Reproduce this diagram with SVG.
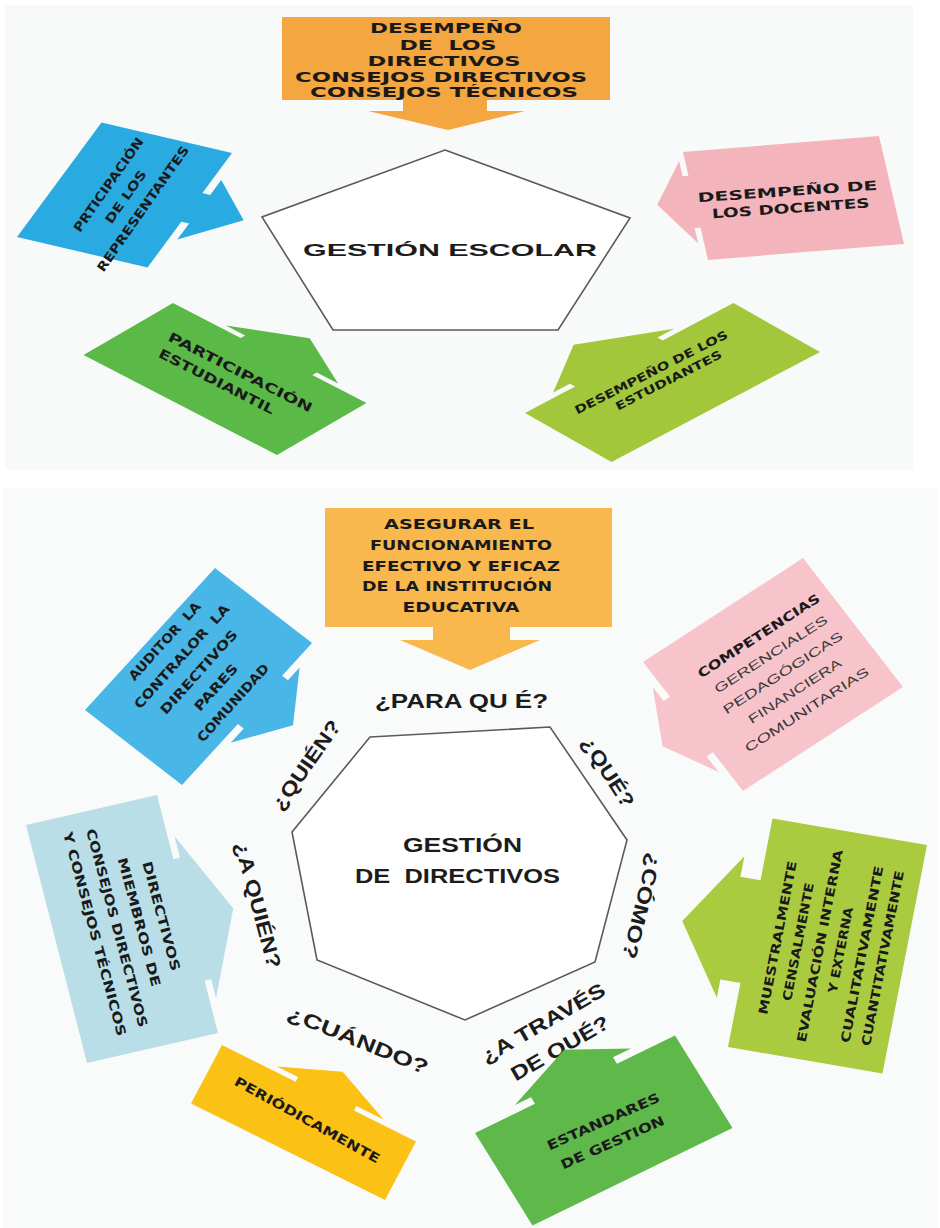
<svg xmlns="http://www.w3.org/2000/svg" width="940" height="1228" viewBox="0 0 940 1228">
  <style>
    .t { font-family: "Liberation Sans", Arial, sans-serif; font-weight: 700; fill: #1c1c1c; }
    .b { font-family: "DejaVu Sans", "Liberation Sans", Arial, sans-serif; font-weight: 700; fill: #1a1a1a; }
    .m { text-anchor: middle; }
    .reg { font-family: "Liberation Sans", Arial, sans-serif; font-weight: 400; fill: #3a3a3a; }
    .frame { fill: #ffffff; stroke: #5a5a5a; stroke-width: 1.6; }
    .q { font-size: 20px; }
  </style>

  <!-- panel backgrounds -->
  <rect width="940" height="1228" fill="#ffffff"/>
  <rect x="5" y="5" width="908" height="465" fill="#f8f9f9"/>
  <rect x="3" y="488" width="934" height="740" fill="#f9fafa"/>

  <!-- ===== Upper panel: GESTIÓN ESCOLAR ===== -->
  <g id="gestion-escolar">
    <polygon class="frame" points="445,150 630,218 558,330 333,330 262,217"/>
    <text class="t m" x="450" y="256" font-size="17" textLength="294" lengthAdjust="spacingAndGlyphs">GESTIÓN ESCOLAR</text>
  </g>

  <g id="desempeno-directivos">
    <path fill="#f4a640" d="M282,17 H610 V100 H487 V111 H525 L448,130 L368,111 H403 V100 H282 Z"/>
    <g class="b m" font-size="13.5">
      <text x="446" y="33" textLength="152" lengthAdjust="spacingAndGlyphs">DESEMPEÑO</text>
      <text x="448" y="50" textLength="97" lengthAdjust="spacingAndGlyphs" xml:space="preserve">DE  LOS</text>
      <text x="444" y="66" textLength="153" lengthAdjust="spacingAndGlyphs">DIRECTIVOS</text>
      <text x="441" y="82" textLength="292" lengthAdjust="spacingAndGlyphs">CONSEJOS DIRECTIVOS</text>
      <text x="444" y="97" textLength="268" lengthAdjust="spacingAndGlyphs">CONSEJOS TÉCNICOS</text>
    </g>
  </g>

  <g id="participacion-representantes">
    <path fill="#29abe2" transform="matrix(0.845,-1.145,1.305,0.305,17,237)"
          d="M0,0 L100,0 L100,100 L65,100 L65,106 L78,106 L52,140 L26,106 L40,106 L40,100 L0,100 Z"/>
    <g class="b m" font-size="12.5" transform="translate(126,197) rotate(-55)">
      <text x="0" y="-17" textLength="112" lengthAdjust="spacingAndGlyphs">PRTICIPACIÓN</text>
      <text x="0" y="4" textLength="62" lengthAdjust="spacingAndGlyphs">DE LOS</text>
      <text x="0" y="25" textLength="150" lengthAdjust="spacingAndGlyphs">REPRESENTANTES</text>
    </g>
  </g>

  <g id="desempeno-docentes">
    <path fill="#f3b4bc" transform="matrix(1.96,-0.16,0.25,1.08,683,152)"
          d="M0,0 L100,0 L100,100 L0,100 L0,70 L-3,70 L-3,84 L-19,46 L-3,8 L-3,22 L0,22 Z"/>
    <g class="b m" font-size="13" transform="translate(788,198) rotate(-4)">
      <text x="0" y="-2" textLength="180" lengthAdjust="spacingAndGlyphs">DESEMPEÑO DE</text>
      <text x="2" y="15" textLength="158" lengthAdjust="spacingAndGlyphs">LOS DOCENTES</text>
    </g>
  </g>

  <g id="participacion-estudiantil">
    <path fill="#5bba47" transform="matrix(1.935,1.0,-0.895,0.52,173,303)"
          d="M0,0 L35,0 L35,-5 L25,-5 L54,-36 L83,-5 L72,-5 L72,0 L100,0 L100,100 L0,100 Z"/>
    <g class="b" font-size="13" transform="translate(167,340) rotate(27)">
      <text x="0" y="0" textLength="160" lengthAdjust="spacingAndGlyphs">PARTICIPACIÓN</text>
      <text x="-1" y="19" textLength="128" lengthAdjust="spacingAndGlyphs">ESTUDIANTIL</text>
    </g>
  </g>

  <g id="desempeno-estudiantes">
    <path fill="#a2c73b" transform="matrix(2.085,-1.1,0.865,0.49,525,413)"
          d="M0,0 L24,0 L24,-6 L16,-6 L42,-45 L74,-6 L66,-6 L66,0 L100,0 L100,100 L0,100 Z"/>
    <g class="b m" font-size="11.5" transform="translate(653,376) rotate(-27)">
      <text x="0" y="0" textLength="170" lengthAdjust="spacingAndGlyphs">DESEMPEÑO DE LOS</text>
      <text x="12" y="15" textLength="118" lengthAdjust="spacingAndGlyphs">ESTUDIANTES</text>
    </g>
  </g>

  <!-- ===== Lower panel: GESTIÓN DE DIRECTIVOS ===== -->
  <g id="gestion-directivos">
    <polygon class="frame" points="370,737 550,727 627,840 595,962 465,1020 317,960 292,832"/>
    <text class="t" x="403" y="852" font-size="21" textLength="119" lengthAdjust="spacingAndGlyphs">GESTIÓN</text>
    <text class="t" x="355" y="883" font-size="21" textLength="205" lengthAdjust="spacingAndGlyphs" xml:space="preserve">DE  DIRECTIVOS</text>
  </g>

  <g id="preguntas" class="t q">
    <text x="375" y="708" textLength="173" lengthAdjust="spacingAndGlyphs" xml:space="preserve">¿PARA QU É?</text>
    <text class="m" transform="translate(306,765) rotate(-55)" y="7" textLength="105" lengthAdjust="spacingAndGlyphs">¿QUIÉN?</text>
    <text class="m" transform="translate(608,772) rotate(57)" y="7" textLength="80" lengthAdjust="spacingAndGlyphs">¿QUÉ?</text>
    <text class="m" transform="translate(258,905) rotate(75)" y="7" textLength="130" lengthAdjust="spacingAndGlyphs">¿A QUIÉN?</text>
    <text class="m" transform="translate(642,906) rotate(104)" y="7" textLength="108" lengthAdjust="spacingAndGlyphs">¿CÓMO?</text>
    <text class="m" transform="translate(358,1040) rotate(22)" y="7" textLength="150" lengthAdjust="spacingAndGlyphs">¿CUÁNDO?</text>
    <text class="m" transform="translate(543,1023) rotate(-30)" y="7" textLength="140" lengthAdjust="spacingAndGlyphs">¿A TRAVÉS</text>
    <text class="m" transform="translate(560,1048) rotate(-30)" y="7" textLength="110" lengthAdjust="spacingAndGlyphs">DE QUÉ?</text>
  </g>

  <g id="para-que">
    <path fill="#f8b84d" d="M325,508 H612 V627 H510 V640 H540 L470,670 L400,640 H433 V627 H325 Z"/>
    <g class="b m" font-size="14.5">
      <text x="459" y="529" textLength="150" lengthAdjust="spacingAndGlyphs">ASEGURAR EL</text>
      <text x="461" y="550" textLength="182" lengthAdjust="spacingAndGlyphs">FUNCIONAMIENTO</text>
      <text x="461" y="571" textLength="198" lengthAdjust="spacingAndGlyphs">EFECTIVO Y EFICAZ</text>
      <text x="457" y="591" textLength="190" lengthAdjust="spacingAndGlyphs">DE LA INSTITUCIÓN</text>
      <text x="461" y="612" textLength="117" lengthAdjust="spacingAndGlyphs">EDUCATIVA</text>
    </g>
  </g>

  <g id="quien">
    <path fill="#48b6e6" transform="matrix(1.30,-1.42,0.97,0.75,85,710)"
          d="M0,0 L100,0 L100,100 L77,100 L77,106 L86,106 L60,134 L33,106 L43,106 L43,100 L0,100 Z"/>
    <g class="b m" font-size="13" transform="translate(200,673) rotate(-48)">
      <text x="0" y="-43" textLength="100" lengthAdjust="spacingAndGlyphs" xml:space="preserve">AUDITOR  LA</text>
      <text x="0" y="-20" textLength="135" lengthAdjust="spacingAndGlyphs" xml:space="preserve">CONTRALOR  LA</text>
      <text x="0" y="3" textLength="108" lengthAdjust="spacingAndGlyphs">DIRECTIVOS</text>
      <text x="0" y="26" textLength="58" lengthAdjust="spacingAndGlyphs">PARES</text>
      <text x="0" y="49" textLength="100" lengthAdjust="spacingAndGlyphs">COMUNIDAD</text>
    </g>
  </g>

  <g id="que">
    <path fill="#f7c4cc" transform="matrix(1.6,-1.04,1.0,1.29,643,662)"
          d="M0,0 L100,0 L100,100 L0,100 L0,70 L-4,70 L-4,82 L-19,50 L-4,16 L-4,27 L0,27 Z"/>
    <g class="m" font-size="12.5" transform="translate(783,673) rotate(-33)">
      <text class="b" x="0" y="-40" textLength="143" lengthAdjust="spacingAndGlyphs">COMPETENCIAS</text>
      <text class="reg" x="0" y="-18" textLength="132" lengthAdjust="spacingAndGlyphs">GERENCIALES</text>
      <text class="reg" x="0" y="4" textLength="140" lengthAdjust="spacingAndGlyphs">PEDAGÓGICAS</text>
      <text class="reg" x="0" y="26" textLength="108" lengthAdjust="spacingAndGlyphs">FINANCIERA</text>
      <text class="reg" x="0" y="48" textLength="145" lengthAdjust="spacingAndGlyphs">COMUNITARIAS</text>
    </g>
  </g>

  <g id="a-quien">
    <path fill="#b9dee7" transform="matrix(0.61,2.38,-1.31,0.30,157,795)"
          d="M0,0 L27,0 L27,-5 L18,-5 L52,-34 L86,-5 L78,-5 L78,0 L100,0 L100,100 L0,100 Z"/>
    <g class="b m" font-size="13" transform="translate(128,925) rotate(75)">
      <text x="0" y="-30" textLength="113" lengthAdjust="spacingAndGlyphs">DIRECTIVOS</text>
      <text x="0" y="-7" textLength="133" lengthAdjust="spacingAndGlyphs">MIEMBROS DE</text>
      <text x="0" y="16" textLength="205" lengthAdjust="spacingAndGlyphs">CONSEJOS DIRECTIVOS</text>
      <text x="0" y="39" textLength="211" lengthAdjust="spacingAndGlyphs">Y CONSEJOS TÉCNICOS</text>
    </g>
  </g>

  <g id="como">
    <path fill="#aacb3f" transform="matrix(0.445,-2.285,1.545,0.265,728,1047)"
          d="M0,0 L28,0 L28,-13 L20,-13 L50,-44 L82,-13 L73,-13 L73,0 L100,0 L100,100 L0,100 Z"/>
    <g class="b m" font-size="12.5" transform="translate(830,948) rotate(-79)">
      <text x="0" y="-49" textLength="156" lengthAdjust="spacingAndGlyphs">MUESTRALMENTE</text>
      <text x="0" y="-28" textLength="120" lengthAdjust="spacingAndGlyphs">CENSALMENTE</text>
      <text x="0" y="-6" textLength="196" lengthAdjust="spacingAndGlyphs">EVALUACIÓN INTERNA</text>
      <text x="0" y="15" textLength="87" lengthAdjust="spacingAndGlyphs">Y EXTERNA</text>
      <text x="0" y="37" textLength="180" lengthAdjust="spacingAndGlyphs">CUALITATIVAMENTE</text>
      <text x="0" y="58" textLength="178" lengthAdjust="spacingAndGlyphs">CUANTITATIVAMENTE</text>
    </g>
  </g>

  <g id="cuando">
    <path fill="#fbc114" transform="matrix(1.94,0.965,-0.31,0.585,222,1045)"
          d="M0,0 L38,0 L38,-8 L27,-8 L55,-45 L82,-8 L68,-8 L68,0 L100,0 L100,100 L0,100 Z"/>
    <text class="b m" font-size="13" transform="translate(305,1124) rotate(29)" textLength="164" lengthAdjust="spacingAndGlyphs">PERIÓDICAMENTE</text>
  </g>

  <g id="a-traves-de-que">
    <path fill="#5eb84a" transform="matrix(2.0,-0.975,0.575,0.925,475,1133)"
          d="M0,0 L30,0 L30,-7 L22,-7 L54,-33 L80,-7 L71,-7 L71,0 L100,0 L100,100 L0,100 Z"/>
    <g class="b m" font-size="13" transform="translate(608,1132) rotate(-24)">
      <text x="0" y="-7" textLength="122" lengthAdjust="spacingAndGlyphs">ESTANDARES</text>
      <text x="0" y="16" textLength="112" lengthAdjust="spacingAndGlyphs">DE GESTION</text>
    </g>
  </g>
</svg>
